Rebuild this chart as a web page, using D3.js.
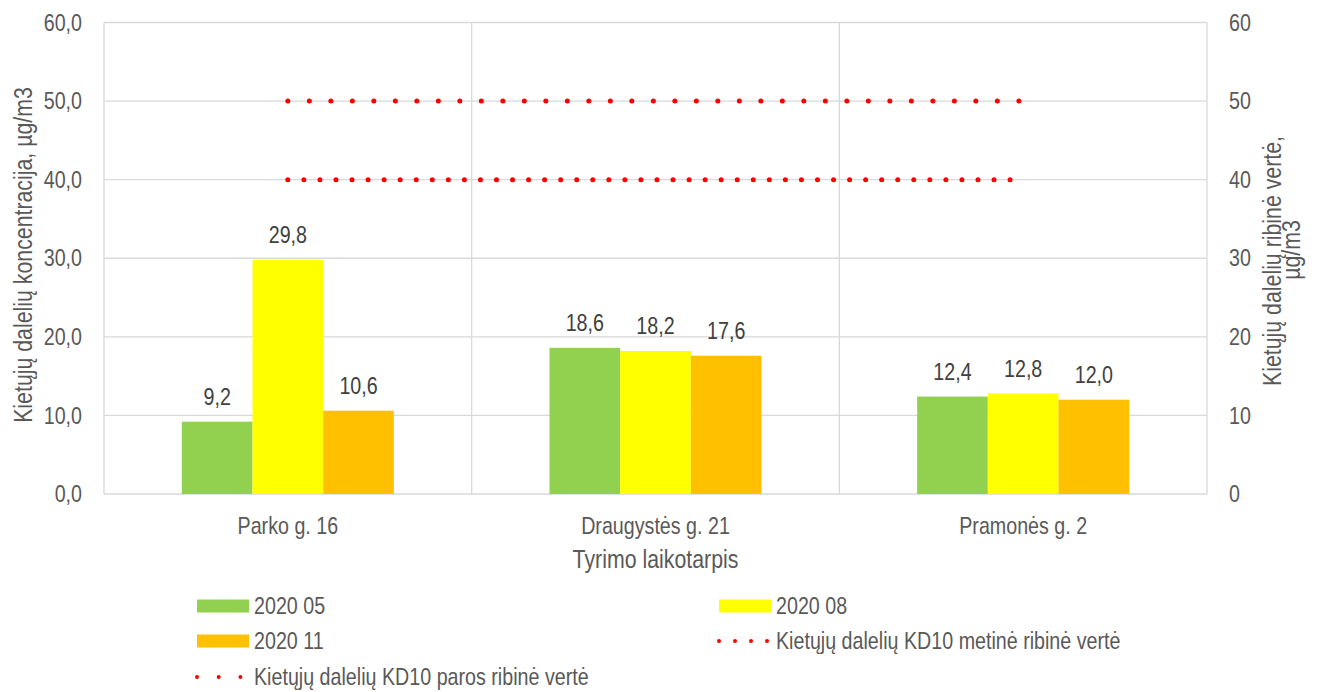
<!DOCTYPE html>
<html>
<head>
<meta charset="utf-8">
<script src="https://cdn.jsdelivr.net/npm/d3@7"></script>
<style>
  html, body { margin: 0; padding: 0; background: #fff; }
  svg { display: block; }
  text { font-family: "Liberation Sans", Arial, sans-serif; fill: #595959; }
</style>
</head>
<body>
<svg id="chart" width="1318" height="692"></svg>
<script>
const categories = ["Parko g. 16", "Draugystės g. 21", "Pramonės g. 2"];
const seriesNames = ["2020 05", "2020 08", "2020 11"];
const seriesColors = ["#92d050", "#ffff00", "#ffc000"];
const values2020_05 = [9.2, 18.6, 12.4];
const values2020_08 = [29.8, 18.2, 12.8];
const values2020_11 = [10.6, 17.6, 12.0];
const dailyLimit = [50, 50, 50];   // paros ribinė vertė
const annualLimit = [40, 40, 40];  // metinė ribinė vertė
const leftTicks = [0, 10, 20, 30, 40, 50, 60];
const rightTicks = [0, 10, 20, 30, 40, 50, 60];
const leftTitle = "Kietųjų dalelių koncentracija, µg/m3";
const rightTitle1 = "Kietųjų dalelių ribinė vertė,";
const rightTitle2 = "µg/m3";
const xTitle = "Tyrimo laikotarpis";
const lineNames = ["Kietųjų dalelių KD10 metinė ribinė vertė", "Kietųjų dalelių KD10 paros ribinė vertė"];

const seriesValues = [values2020_05, values2020_08, values2020_11];
const NARROW = 0.82;

// condense text horizontally (Arial Narrow look)
function narrow(sel, k) {
  sel.each(function () {
    const t = d3.select(this);
    const x = +t.attr("x") || 0, y = +t.attr("y") || 0;
    const tr = t.attr("transform") || "";
    t.attr("x", null).attr("y", null)
      .attr("transform", `${tr} translate(${x},${y}) scale(${k},1)`);
  });
}

const svg = d3.select("#chart");
const plot = { left: 104, right: 1207, top: 22.5, bottom: 494 };

const x = d3.scaleBand().domain(categories).range([plot.left, plot.right]).paddingInner(0).paddingOuter(0);
const inner = d3.scaleBand().domain(seriesNames).range([77.8, x.bandwidth() - 77.8]).padding(0);
const yL = d3.scaleLinear().domain([0, 60]).range([plot.bottom, plot.top]);
const yR = d3.scaleLinear().domain([0, 60]).range([plot.bottom, plot.top]);

const grid = "#d9d9d9";
svg.append("g").selectAll("line").data(leftTicks).join("line")
  .attr("x1", plot.left).attr("x2", plot.right)
  .attr("y1", d => yL(d)).attr("y2", d => yL(d))
  .attr("stroke", grid).attr("stroke-width", 1.3);
const edges = categories.map(c => x(c)).concat([plot.right]);
svg.append("g").selectAll("line").data(edges).join("line")
  .attr("x1", d => d).attr("x2", d => d)
  .attr("y1", plot.top).attr("y2", plot.bottom)
  .attr("stroke", grid).attr("stroke-width", 1.3);

// bars + value labels
seriesNames.forEach((s, si) => {
  const g = svg.append("g");
  g.selectAll("rect").data(seriesValues[si]).join("rect")
    .attr("x", (d, i) => x(categories[i]) + inner(s))
    .attr("width", inner.bandwidth())
    .attr("y", d => yL(d))
    .attr("height", d => yL(0) - yL(d))
    .attr("fill", seriesColors[si]);
  g.selectAll("text").data(seriesValues[si]).join("text")
    .attr("x", (d, i) => x(categories[i]) + inner(s) + inner.bandwidth() / 2)
    .attr("y", d => yL(d) - 16.5)
    .attr("text-anchor", "middle")
    .attr("font-size", 24)
    .style("fill", "#404040")
    .text(d => d.toFixed(1).replace(".", ","))
    .call(narrow, NARROW);
});

// limit lines on the secondary axis, from first to last category centre
const lineGen = d3.line().x((d, i) => x(categories[i]) + x.bandwidth() / 2).y(d => yR(d));
svg.append("path").datum(dailyLimit).attr("d", lineGen)
  .attr("fill", "none").attr("stroke", "#ff0000").attr("stroke-width", 5)
  .attr("stroke-linecap", "round").attr("stroke-dasharray", "0 21.5");
svg.append("path").datum(annualLimit).attr("d", lineGen)
  .attr("fill", "none").attr("stroke", "#ff0000").attr("stroke-width", 5)
  .attr("stroke-linecap", "round").attr("stroke-dasharray", "0 16.05");

// left axis
const axL = svg.append("g").attr("transform", `translate(${plot.left},0)`)
  .call(d3.axisLeft(yL).tickValues(leftTicks).tickSize(0).tickPadding(22)
    .tickFormat(d => d.toFixed(1).replace(".", ",")));
axL.select(".domain").remove();
axL.selectAll("text").attr("font-size", 24).style("font-family", "Liberation Sans").style("fill", "#595959").call(narrow, NARROW);

// right axis
const axR = svg.append("g").attr("transform", `translate(${plot.right},0)`)
  .call(d3.axisRight(yR).tickValues(rightTicks).tickSize(0).tickPadding(22).tickFormat(d3.format("d")));
axR.select(".domain").remove();
axR.selectAll("text").attr("font-size", 24).style("font-family", "Liberation Sans").style("fill", "#595959").call(narrow, NARROW);

// x axis
const axX = svg.append("g").attr("transform", `translate(0,${plot.bottom})`)
  .call(d3.axisBottom(x).tickSize(0).tickPadding(23));
axX.select(".domain").remove();
axX.selectAll("text").attr("font-size", 24).style("font-family", "Liberation Sans").style("fill", "#595959").call(narrow, NARROW);

// axis titles
svg.append("text").attr("transform", `translate(32,255) rotate(-90) scale(${NARROW},1)`)
  .attr("text-anchor", "middle").attr("font-size", 26).text(leftTitle);
svg.append("text").attr("transform", `translate(1281,261) rotate(-90) scale(${NARROW},1)`)
  .attr("text-anchor", "middle").attr("font-size", 26).text(rightTitle1);
svg.append("text").attr("transform", `translate(1300,250) rotate(-90) scale(${NARROW},1)`)
  .attr("text-anchor", "middle").attr("font-size", 26).text(rightTitle2);
svg.append("text").attr("transform", `translate(${(plot.left + plot.right) / 2},568) scale(${NARROW},1)`)
  .attr("text-anchor", "middle").attr("font-size", 26).text(xTitle);

// legend
const legend = svg.append("g");
const legItems = [
  { type: "bar", color: seriesColors[0], label: seriesNames[0], x: 197, y: 606 },
  { type: "bar", color: seriesColors[1], label: seriesNames[1], x: 719, y: 606 },
  { type: "bar", color: seriesColors[2], label: seriesNames[2], x: 197, y: 641 },
  { type: "line", gap: 16, n: 4, label: lineNames[0], x: 719, y: 641 },
  { type: "line", gap: 21.7, n: 3, label: lineNames[1], x: 197, y: 677 }
];
legItems.forEach(it => {
  if (it.type === "bar") {
    legend.append("rect").attr("x", it.x).attr("y", it.y - 6.5).attr("width", 52).attr("height", 13).attr("fill", it.color);
  } else {
    legend.append("line").attr("x1", it.x).attr("x2", it.x + it.gap * (it.n - 1) + 0.01)
      .attr("y1", it.y).attr("y2", it.y)
      .attr("stroke", "#ff0000").attr("stroke-width", 4).attr("stroke-linecap", "round")
      .attr("stroke-dasharray", `0 ${it.gap}`);
  }
  legend.append("text").attr("x", 254 + (it.x - 197)).attr("y", it.y).attr("dy", "0.35em")
    .attr("font-size", 24).text(it.label).call(narrow, NARROW);
});
</script>
</body>
</html>
